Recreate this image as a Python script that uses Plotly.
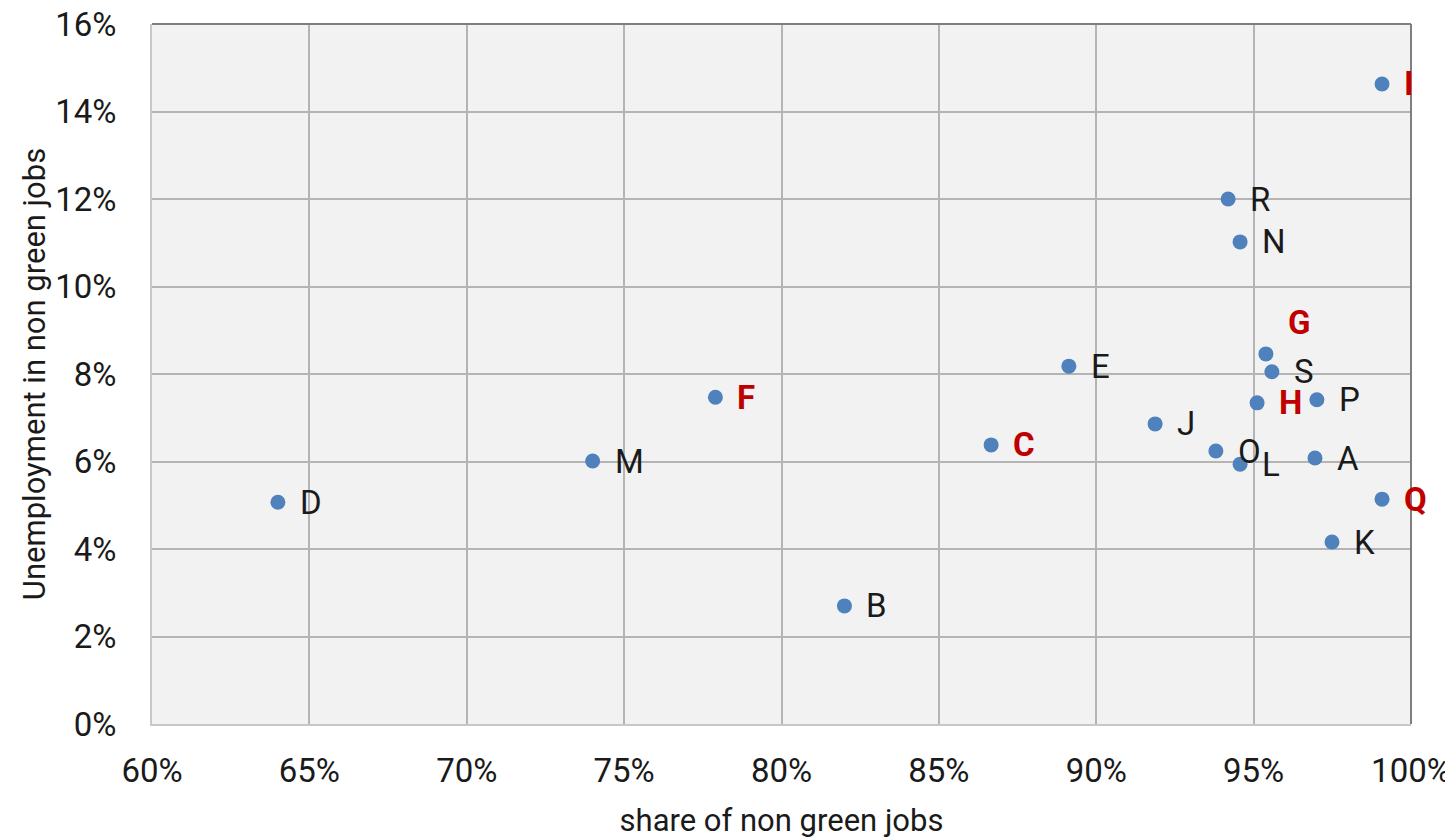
import plotly.graph_objects as go

labels = ["D", "M", "F", "B", "C", "E", "J", "O", "L", "H", "G", "S", "P", "A", "Q", "K", "R", "N", "I"]
share_non_green = [0.640, 0.740, 0.779, 0.820, 0.8666, 0.8913, 0.9187, 0.9380, 0.9457, 0.9511, 0.9539, 0.9558, 0.9701, 0.9695, 0.9908, 0.9749, 0.9419, 0.9457, 0.9908]
unemployment = [0.0507, 0.0601, 0.0747, 0.0270, 0.0638, 0.0818, 0.0686, 0.0624, 0.0594, 0.0734, 0.0846, 0.0805, 0.0741, 0.0608, 0.0514, 0.0416, 0.1200, 0.1102, 0.1463]
highlighted = ["C", "F", "G", "H", "I", "Q"]
x_ticks = [0.60, 0.65, 0.70, 0.75, 0.80, 0.85, 0.90, 0.95, 1.00]
y_ticks = [0.00, 0.02, 0.04, 0.06, 0.08, 0.10, 0.12, 0.14, 0.16]

FONT = "Roboto, Liberation Sans, sans-serif"
RED = "#c00000"
DARK = "#1a1a1a"

fig = go.Figure()
fig.add_trace(go.Scatter(
    x=share_non_green, y=unemployment, mode="markers",
    marker=dict(size=15, color="#4f81bd", line=dict(width=0)),
    hoverinfo="skip", showlegend=False, cliponaxis=False,
))

for name, xv, yv in zip(labels, share_non_green, unemployment):
    hl = name in highlighted
    yshift = 31 if name == "G" else 0
    fig.add_annotation(
        x=xv, y=yv, text=f"<b>{name}</b>" if hl else name,
        showarrow=False, xanchor="left", yanchor="middle",
        xshift=20, yshift=yshift,
        font=dict(family=FONT, size=33, color=RED if hl else DARK),
    )

# darker top and right frame lines
fig.add_shape(type="line", xref="paper", yref="paper", x0=0, x1=1, y0=1, y1=1,
              line=dict(color="#7f7f7f", width=2))
fig.add_shape(type="line", xref="paper", yref="paper", x0=1, x1=1, y0=0, y1=1,
              line=dict(color="#7f7f7f", width=2))

# page body has an 8px default margin, so the figure is sized to fit the window
fig.update_layout(
    width=1445, height=831,
    margin=dict(l=144, r=42, t=16, b=115),
    paper_bgcolor="white", plot_bgcolor="#f2f2f2",
    font=dict(family=FONT, size=33, color=DARK),
)
fig.update_xaxes(
    range=[0.60, 1.00], tickvals=x_ticks,
    ticktext=[f"{round(v*100)}%" for v in x_ticks],
    showgrid=True, gridcolor="#b4b4b4", gridwidth=2,
    showline=True, linecolor="#c8c8c8", linewidth=2,
    zeroline=False, ticks="", ticklabelstandoff=16, automargin=False,
    ticklabeloverflow="allow",
    tickfont=dict(family=FONT, size=33, color=DARK),
    title=dict(text="share of non green jobs", font=dict(family=FONT, size=31, color=DARK), standoff=28),
)
fig.update_yaxes(
    range=[0.0, 0.16], tickvals=y_ticks,
    ticktext=[f"{round(v*100)}%" for v in y_ticks],
    showgrid=True, gridcolor="#b4b4b4", gridwidth=2,
    showline=True, linecolor="#c8c8c8", linewidth=2,
    zeroline=False, ticks="", ticklabelstandoff=27, automargin=False,
    ticklabeloverflow="allow",
    tickfont=dict(family=FONT, size=33, color=DARK),
    title=dict(text="Unemployment in non green jobs", font=dict(family=FONT, size=31, color=DARK), standoff=0),
)

fig.write_html("out.html")
